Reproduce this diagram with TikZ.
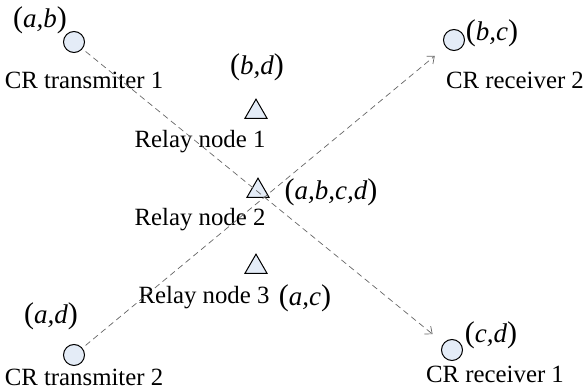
\documentclass[tikz,border=0pt]{standalone}
\usepackage{fontspec}
\setmainfont{Liberation Serif}
\usetikzlibrary{shapes.geometric,arrows.meta}
\definecolor{nodefill}{HTML}{E4ECF7}
\tikzstyle{every node}=[inner sep=0pt]
\tikzstyle{cr}=[circle, draw, fill=nodefill, minimum size=10.5pt, line width=0.5pt]
\tikzstyle{relay}=[regular polygon, regular polygon sides=3, draw, fill=nodefill, minimum size=12.8pt, line width=0.5pt]
\tikzstyle{link}=[dashed, dash pattern=on 3pt off 2pt, gray!80!black, line width=0.35pt]
\tikzstyle{lbl}=[font=\fontsize{13.5}{16}\selectfont]
\newcommand{\pairlbl}[1]{{\fontsize{15}{16}\selectfont(}\textit{#1}{\fontsize{15}{16}\selectfont)}}

\begin{document}
\begin{tikzpicture}[x=0.5pt, y=-0.5pt, font=\fontsize{12.4}{15}\selectfont]
    \useasboundingbox (0,0) rectangle (586,390);
% Users
    \node[cr] (tx1) at (74,42) {};
    \node[cr] (tx2) at (74,355) {};
    \node[cr] (rx2) at (454,40) {};
    \node[cr] (rx1) at (452,350) {};
% Relays
    \node[relay] (relay1) at (256,112) {};
    \node[relay] (relay2) at (258,191) {};
    \node[relay] (relay3) at (256,267) {};
% Names
    \node (tx1name) at (84,80) {CR transmiter 1};
    \node (tx2name) at (84,377) {CR transmiter 2};
    \node (rx2name) at (515,80) {CR receiver 2};
    \node (rx1name) at (495,374) {CR receiver 1};
    \node (relay1name) at (200,142) {Relay node 1};
    \node (relay2name) at (200,220) {Relay node 2};
    \node (relay3name) at (204,298) {Relay node 3};
% Labels
    \node[lbl] (tx1lbl) at (40,20) {\pairlbl{a,b}};
    \node[lbl] (tx2lbl) at (51,316) {\pairlbl{a,d}};
    \node[lbl] (rx2lbl) at (492,33) {\pairlbl{b,c}};
    \node[lbl] (rx1lbl) at (491,335) {\pairlbl{c,d}};
    \node[lbl] (relay1lbl) at (257,67) {\pairlbl{b,d}};
    \node[lbl] (relay2lbl) at (331,192) {\pairlbl{a,b,c,d}};
    \node[lbl] (relay3lbl) at (305,298) {\pairlbl{a,c}};
% Links
    \draw[link, -{Straight Barb[length=3pt,width=5pt]}, shorten <=2pt, shorten >=7pt] (tx1) -- (rx1);
    \draw[link, -{Straight Barb[length=3pt,width=5pt]}, shorten <=2pt, shorten >=7pt] (tx2) -- (rx2);
\end{tikzpicture}
\end{document}
